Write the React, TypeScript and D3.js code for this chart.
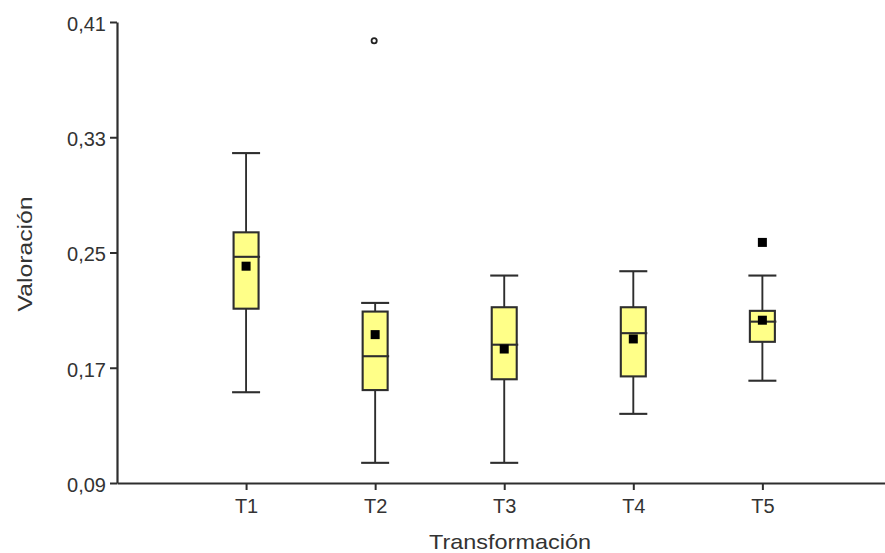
import React, { useRef, useEffect } from "react";
import { select, scaleLinear, axisBottom, axisLeft } from "d3";

const categories = ["T1", "T2", "T3", "T4", "T5"];
const whiskerHigh = [0.319, 0.215, 0.234, 0.237, 0.234];
const q3 = [0.264, 0.209, 0.212, 0.212, 0.2095];
const median = [0.247, 0.178, 0.186, 0.194, 0.202];
const mean = [0.2405, 0.193, 0.183, 0.19, 0.203];
const q1 = [0.211, 0.1545, 0.162, 0.164, 0.188];
const whiskerLow = [0.153, 0.104, 0.104, 0.138, 0.161];
const outlierCats = ["T2", "T5"];
const outlierValues = [0.397, 0.257];
const outlierShapes = ["circle", "square"];
const yTicks = [0.09, 0.17, 0.25, 0.33, 0.41];

export default function App() {
  const svgRef = useRef<SVGSVGElement>(null);

  useEffect(() => {
    const svg = select(svgRef.current);
    svg.selectAll("*").remove();

    const width = 885;
    const stroke = "#2e2e2e";

    const x = scaleLinear().domain([0, 5.95]).range([117, width]);
    const y = scaleLinear().domain([0.09, 0.41]).range([483, 22]);
    const xPos = (c: string) => x(categories.indexOf(c) + 1);

    const boxW = 25;
    const capW = 28;

    const boxes = categories.map((c, i) => ({
      c,
      hi: whiskerHigh[i],
      q3: q3[i],
      med: median[i],
      mean: mean[i],
      q1: q1[i],
      lo: whiskerLow[i],
    }));

    const g = svg.append("g");

    // whiskers
    g.selectAll(".whisker")
      .data(boxes)
      .join("line")
      .attr("x1", d => xPos(d.c))
      .attr("x2", d => xPos(d.c))
      .attr("y1", d => y(d.hi))
      .attr("y2", d => y(d.lo))
      .attr("stroke", stroke)
      .attr("stroke-width", 1.9);

    // caps
    ["hi", "lo"].forEach(k => {
      g.selectAll(".cap-" + k)
        .data(boxes)
        .join("line")
        .attr("x1", d => xPos(d.c) - capW / 2)
        .attr("x2", d => xPos(d.c) + capW / 2)
        .attr("y1", d => y((d as any)[k]))
        .attr("y2", d => y((d as any)[k]))
        .attr("stroke", stroke)
        .attr("stroke-width", 2.1);
    });

    // boxes
    g.selectAll(".box")
      .data(boxes)
      .join("rect")
      .attr("x", d => xPos(d.c) - boxW / 2)
      .attr("width", boxW)
      .attr("y", d => y(d.q3))
      .attr("height", d => y(d.q1) - y(d.q3))
      .attr("fill", "#ffff88")
      .attr("stroke", stroke)
      .attr("stroke-width", 2.1);

    // medians
    g.selectAll(".median")
      .data(boxes)
      .join("line")
      .attr("x1", d => xPos(d.c) - boxW / 2)
      .attr("x2", d => xPos(d.c) + capW / 2)
      .attr("y1", d => y(d.med))
      .attr("y2", d => y(d.med))
      .attr("stroke", stroke)
      .attr("stroke-width", 2.1);

    // means
    const ms = 9;
    g.selectAll(".mean")
      .data(boxes)
      .join("rect")
      .attr("x", d => xPos(d.c) - ms / 2)
      .attr("y", d => y(d.mean) - ms / 2)
      .attr("width", ms)
      .attr("height", ms)
      .attr("fill", "#000");

    // outliers
    const outs = outlierCats.map((c, i) => ({ c, v: outlierValues[i], s: outlierShapes[i] }));
    outs.forEach(o => {
      if (o.s === "circle") {
        g.append("circle")
          .attr("cx", xPos(o.c) - 1)
          .attr("cy", y(o.v))
          .attr("r", 2.6)
          .attr("fill", "#fff")
          .attr("stroke", "#222")
          .attr("stroke-width", 1.8);
      } else {
        g.append("rect")
          .attr("x", xPos(o.c) - ms / 2)
          .attr("y", y(o.v) - ms / 2)
          .attr("width", ms)
          .attr("height", ms)
          .attr("fill", "#000");
      }
    });

    // axes
    const xAxis = svg.append("g")
      .attr("transform", `translate(0,${y(0.09)})`)
      .call(
        axisBottom(x)
          .tickValues([1, 2, 3, 4, 5])
          .tickFormat(d => categories[(d as number) - 1])
          .tickSize(7)
          .tickSizeOuter(0)
      );

    const yAxis = svg.append("g")
      .attr("transform", `translate(${x(0)},0)`)
      .call(
        axisLeft(y)
          .tickValues(yTicks)
          .tickFormat(d => (d as number).toFixed(2).replace(".", ","))
          .tickSize(7)
          .tickSizeOuter(0)
      );

    [xAxis, yAxis].forEach(a => {
      a.select(".domain").attr("stroke", stroke).attr("stroke-width", 2.2);
      a.selectAll(".tick line").attr("stroke", stroke).attr("stroke-width", 2);
      a.selectAll(".tick text")
        .attr("fill", "#333")
        .style("font-family", "'Liberation Sans', Arial, sans-serif")
        .style("font-size", "20px");
    });
    xAxis.selectAll(".tick text").attr("dy", "1.0em");
    yAxis.selectAll(".tick text").attr("x", -11).attr("dy", "0.42em");

    // titles
    svg.append("text")
      .attr("x", 510)
      .attr("y", 549)
      .attr("text-anchor", "middle")
      .attr("textLength", 162)
      .attr("lengthAdjust", "spacingAndGlyphs")
      .attr("fill", "#333")
      .style("font-family", "'Liberation Sans', Arial, sans-serif")
      .style("font-size", "21px")
      .text("Transformación");

    svg.append("text")
      .attr("transform", `translate(32,254) rotate(-90)`)
      .attr("text-anchor", "middle")
      .attr("textLength", 115)
      .attr("lengthAdjust", "spacingAndGlyphs")
      .attr("fill", "#333")
      .style("font-family", "'Liberation Sans', Arial, sans-serif")
      .style("font-size", "21px")
      .text("Valoración");
  }, []);

  return (
    <svg
      ref={svgRef}
      width={885}
      height={553}
      style={{ position: "absolute", left: 0, top: 0, background: "#fff" }}
    />
  );
}
